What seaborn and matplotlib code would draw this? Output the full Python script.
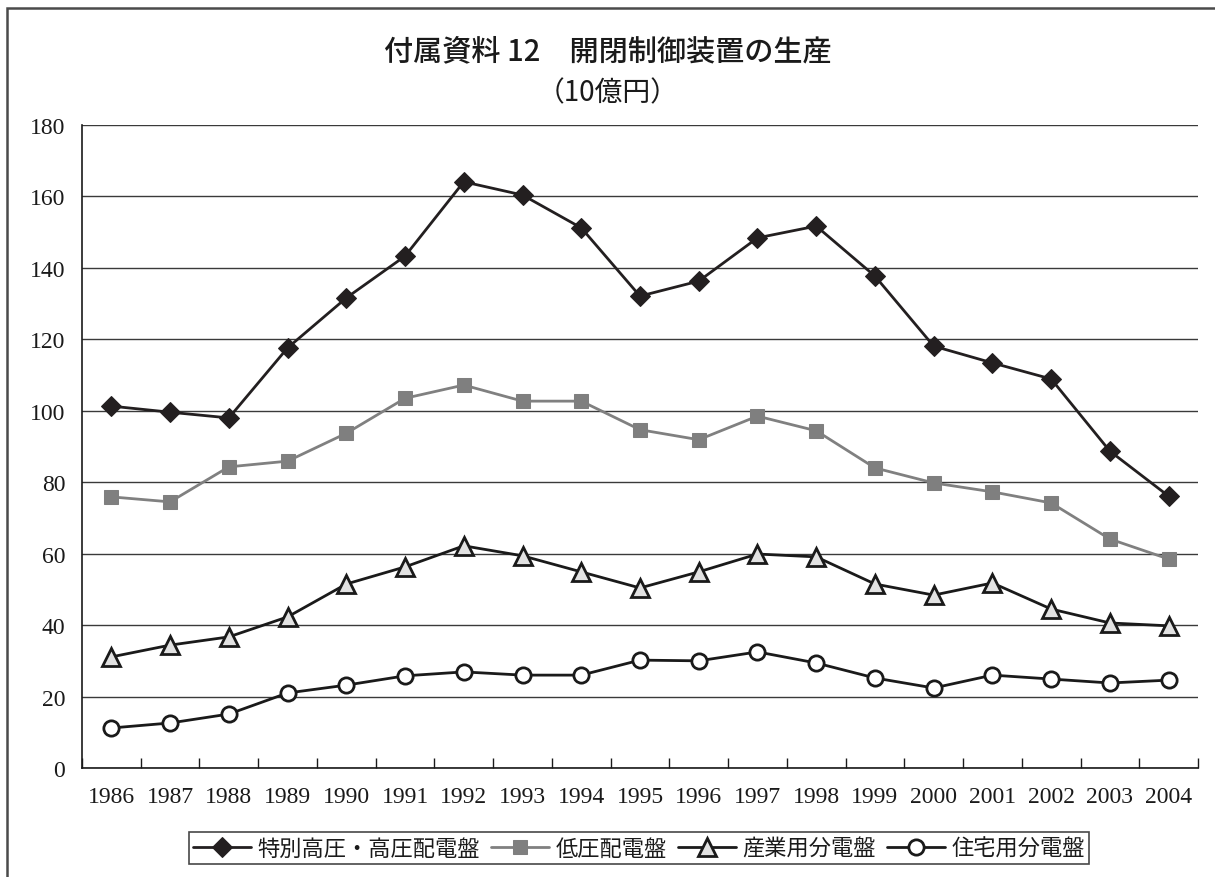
import matplotlib
matplotlib.use("Agg")
import matplotlib.pyplot as plt
from matplotlib.patches import Rectangle
from matplotlib.ticker import FixedLocator, MultipleLocator
import numpy as np
import pandas as pd
import seaborn as sns

# ---- data (10億円) ----
years = ["1986", "1987", "1988", "1989", "1990", "1991", "1992", "1993", "1994", "1995",
         "1996", "1997", "1998", "1999", "2000", "2001", "2002", "2003", "2004"]
high_voltage = [101.3, 99.6, 98.0, 117.6, 131.6, 143.3, 164.1, 160.4, 151.2, 132.1,
                136.3, 148.4, 151.7, 137.7, 118.1, 113.4, 108.9, 88.7, 76.1]
low_voltage = [75.9, 74.5, 84.3, 85.9, 93.7, 103.5, 107.2, 102.7, 102.7, 94.7,
               91.9, 98.5, 94.4, 84.0, 79.8, 77.3, 74.2, 64.1, 58.5]
industrial = [31.1, 34.4, 36.7, 42.3, 51.5, 56.3, 62.2, 59.4, 54.9, 50.4,
              54.9, 59.9, 59.1, 51.5, 48.4, 51.8, 44.5, 40.6, 39.8]
residential = [11.2, 12.6, 15.1, 21.0, 23.2, 25.8, 26.9, 26.0, 26.0, 30.2,
               30.0, 32.5, 29.4, 25.2, 22.4, 26.0, 24.9, 23.8, 24.6]

series_names = ["特別高圧・高圧配電盤", "低圧配電盤", "産業用分電盤", "住宅用分電盤"]
title = "付属資料 12　開閉制御装置の生産"
unit = "（10億円）"

df = pd.DataFrame({
    "year": years * 4,
    "value": high_voltage + low_voltage + industrial + residential,
    "series": np.repeat(series_names, len(years)),
})

sns.set_theme(style="white")
plt.rcParams["font.family"] = ["Noto Sans CJK JP", "DejaVu Sans"]

W, H = 1215, 878
fig = plt.figure(figsize=(W / 100, H / 100), dpi=100)
ax = fig.add_axes([82 / W, 1 - 769 / H, (1198 - 82) / W, (769 - 126) / H])

styles = {
    "特別高圧・高圧配電盤": dict(color="#231f20", marker="D", markersize=10,
                          markerfacecolor="#231f20", markeredgecolor="#231f20"),
    "低圧配電盤": dict(color="#808080", marker="s", markersize=10,
                   markerfacecolor="#7f7f7f", markeredgecolor="#7f7f7f"),
    "産業用分電盤": dict(color="#1a1a1a", marker="^", markersize=13,
                    markerfacecolor="#e2e2e2", markeredgecolor="#1a1a1a",
                    markeredgewidth=2.0),
    "住宅用分電盤": dict(color="#1a1a1a", marker="o", markersize=11,
                    markerfacecolor="white", markeredgecolor="#1a1a1a",
                    markeredgewidth=2.0),
}

for name in series_names:
    sub = df[df["series"] == name]
    sns.lineplot(data=sub, x="year", y="value", ax=ax, sort=False,
                 linewidth=2.0, label=name, **styles[name])

# axes ranges and grid
ax.set_xlim(-0.5, len(years) - 0.5)
ax.set_ylim(0, 180)
ax.yaxis.set_major_locator(MultipleLocator(20))
ax.grid(axis="y", color="#3a3a3a", linewidth=1.0)
ax.grid(axis="x", visible=False)
ax.set_axisbelow(True)
ax.set_xlabel("")
ax.set_ylabel("")

for side in ["top", "right"]:
    ax.spines[side].set_visible(False)
for side in ["left", "bottom"]:
    ax.spines[side].set_visible(True)
    ax.spines[side].set_color("#1a1a1a")
    ax.spines[side].set_linewidth(1.2)

# category ticks: labels at centers, marks at boundaries
ax.set_xticks(range(len(years)))
ax.set_xticklabels(years)
ax.tick_params(axis="x", which="major", length=0, pad=13)
ax.xaxis.set_minor_locator(FixedLocator(np.arange(-0.5, len(years), 1.0)))
ax.tick_params(axis="x", which="minor", direction="in", length=7, width=1.0,
               color="#1a1a1a", bottom=True)
ax.tick_params(axis="y", length=0, pad=12)
for lab in ax.get_xticklabels() + ax.get_yticklabels():
    lab.set_fontfamily(["Liberation Serif", "DejaVu Serif"])
    lab.set_fontsize(17)
    lab.set_color("#1a1a1a")

# titles
fig.text(0.5, 1 - 52 / H, title, ha="center", va="center", fontsize=21,
         color="#1a1a1a", fontweight="medium")
fig.text(0.5, 1 - 93 / H, unit, ha="center", va="center", fontsize=20,
         color="#1a1a1a")

# legend
ax.get_legend().remove()
handles, labels = ax.get_legend_handles_labels()
leg = fig.legend(handles, labels, loc="center", bbox_to_anchor=(639 / W, 1 - 849 / H),
                 ncol=4, frameon=True, fancybox=False, edgecolor="#1a1a1a",
                 fontsize=16, handlelength=2.6, handletextpad=0.3,
                 columnspacing=0.5, borderpad=0.2, borderaxespad=0)
leg.get_frame().set_linewidth(1.2)
for t in leg.get_texts():
    t.set_color("#1a1a1a")

# outer frame
fig.patches.append(Rectangle((7 / W, -0.1), 1.2, 1.1 - 9 / H, transform=fig.transFigure,
                             fill=False, edgecolor="#4a4a4a", linewidth=1.8))

fig.savefig("out.png", dpi=100, facecolor="white")
